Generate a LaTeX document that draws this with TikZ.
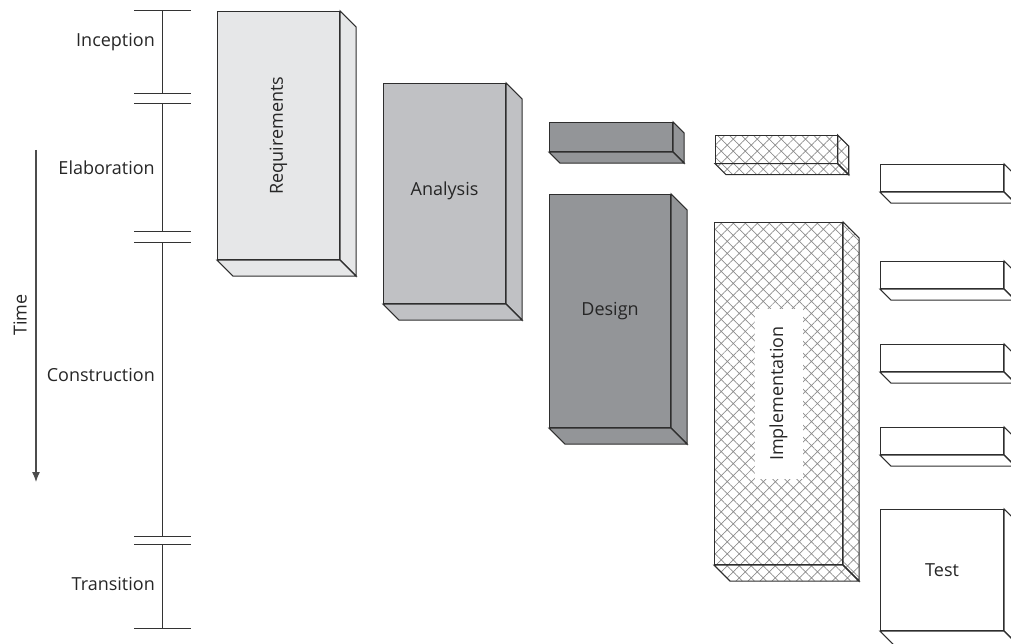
\documentclass[tikz,border=0pt]{standalone}
\usepackage{fontspec}
\setmainfont{Open Sans}
\usepackage{tikz}
\usetikzlibrary{arrows.meta, positioning, patterns.meta}

\definecolor{reqgray}{HTML}{E6E7E8}
\definecolor{anagray}{HTML}{C0C1C4}
\definecolor{desgray}{HTML}{939598}
\definecolor{edgegray}{HTML}{2E2E2E}
\definecolor{hatchgray}{HTML}{8C8C8C}

\tikzset{
  slabface/.style={draw=edgegray, line width=1.1pt, line join=miter},
  frontface/.style={slabface, rectangle, inner sep=0pt, anchor=north west},
  hatched/.style={pattern={Hatch[angle=45,distance=8.5pt,line width=0.7pt]}, pattern color=hatchgray},
  phaselabel/.style={anchor=east, inner sep=0pt, text=black!85, font=\fontsize{18}{21}\selectfont},
  boxlabel/.style={inner sep=0pt, text=black!85, font=\fontsize{18}{21}\selectfont},
  phasetick/.style={line width=1pt, draw=black!80},
}

% side and bottom faces of a slab: node name, depth, look
\newcommand{\slabsides}[3]{%
  \draw[slabface,#3] (#1.north east) -- ++(#2,#2) -- ([shift={(#2,#2)}]#1.south east)
    -- (#1.south east) -- cycle;
  \draw[slabface,#3] (#1.south west) -- ++(#2,#2) -- ([shift={(#2,#2)}]#1.south east)
    -- (#1.south east) -- cycle;
}

\begin{document}
\begin{tikzpicture}[x=1pt,y=-1pt]

        \useasboundingbox (0,0) rectangle (1011,644);
        \clip (0,0) rectangle (1011,644);

        %=====================
        % Time axis
        %=====================
        \coordinate (timetop) at (36,150);
        \coordinate (timebot) at (36,482);
        \draw[-{Latex[length=10pt,width=8pt]}, line width=1.2pt, draw=black!70]
        (timetop) -- (timebot);
        \node[boxlabel, rotate=90] (timetext) at (20,315) {Time};

        %=====================
        % Phases
        %=====================
        \foreach \name/\y in {p0/11, p1/94, p2/104, p3/232, p4/243, p5/536, p6/544, p7/628}
        {
            \coordinate (\name) at (162,\y);
            \draw[phasetick] ([xshift=-28]\name) -- ([xshift=29]\name);
        }
        \draw[phasetick] (p0) -- (p1);
        \draw[phasetick] (p2) -- (p3);
        \draw[phasetick] (p4) -- (p5);
        \draw[phasetick] (p6) -- (p7);

        \node[phaselabel] (inception) at (155,42) {Inception};
        \node[phaselabel] (elaboration) at (155,168) {Elaboration};
        \node[phaselabel] (construction) at (155,375) {Construction};
        \node[phaselabel] (transition) at (155,584) {Transition};

        %=====================
        % Requirements
        %=====================
        \node[frontface, fill=reqgray, minimum width=122pt, minimum height=248pt]
        (req) at (217,11) {};
        \slabsides{req}{16}{fill=reqgray}
        \node[boxlabel, rotate=90] (reqtext) at (req) {Requirements};

        %=====================
        % Analysis
        %=====================
        \node[frontface, fill=anagray, minimum width=122pt, minimum height=220pt]
        (ana) at (383,83) {};
        \slabsides{ana}{16}{fill=anagray}
        \node[boxlabel] (anatext) at ([yshift=3]ana.center) {Analysis};

        %=====================
        % Design
        %=====================
        \node[frontface, fill=desgray, minimum width=123pt, minimum height=29pt]
        (desa) at (549,122) {};
        \slabsides{desa}{11}{fill=desgray}

        \node[frontface, fill=desgray, minimum width=121pt, minimum height=233pt]
        (desb) at (549,194) {};
        \slabsides{desb}{16}{fill=desgray}
        \node[boxlabel] (destext) at (desb) {Design};

        %=====================
        % Implementation (hatched)
        %=====================
        \node[frontface, hatched, minimum width=122pt, minimum height=28pt]
        (impa) at (715,135) {};
        \slabsides{impa}{11}{hatched}

        \node[frontface, hatched, minimum width=128pt, minimum height=342pt]
        (impb) at (714,222) {};
        \slabsides{impb}{16}{hatched}
        \node[boxlabel, rotate=90, fill=white, minimum width=170pt, minimum height=48pt]
        (imptext) at (impb) {Implementation};

        %=====================
        % Test
        %=====================
        \foreach \name/\y in {testa/164, testb/261, testc/344, testd/427}
        {
            \node[frontface, fill=white, minimum width=123pt, minimum height=27pt]
            (\name) at (880,\y) {};
            \slabsides{\name}{11}{fill=white}
        }

        \node[frontface, fill=white, minimum width=123pt, minimum height=121pt]
        (teste) at (880,509) {};
        \slabsides{teste}{16}{fill=white}
        \node[boxlabel] (testtext) at (teste) {Test};

    \end{tikzpicture}
\end{document}
